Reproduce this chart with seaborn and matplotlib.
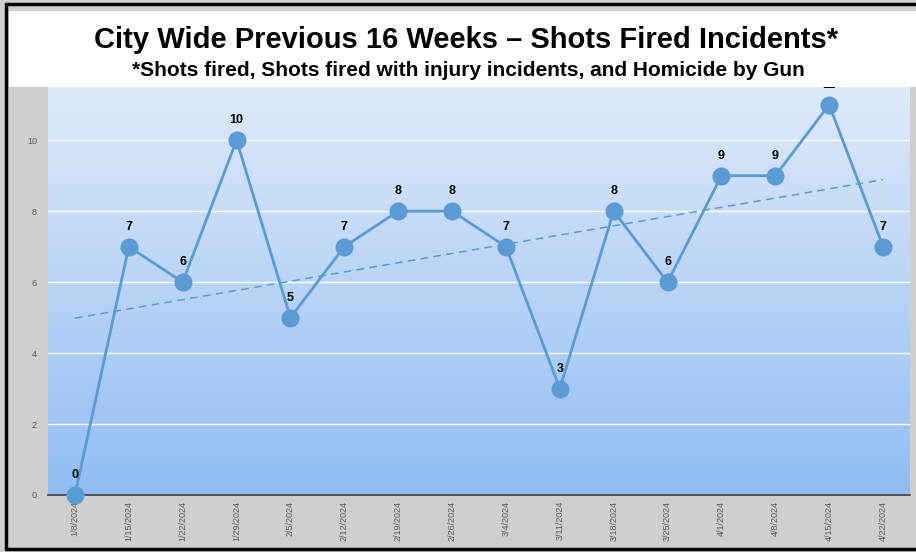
import numpy as np
import pandas as pd
import matplotlib
matplotlib.use("Agg")
import matplotlib.pyplot as plt
import seaborn as sns
from matplotlib.patches import Rectangle
from matplotlib.lines import Line2D

# weekly counts
WEEKS = ["1/8/2024", "1/15/2024", "1/22/2024", "1/29/2024", "2/5/2024", "2/12/2024",
         "2/19/2024", "2/26/2024", "3/4/2024", "3/11/2024", "3/18/2024", "3/25/2024",
         "4/1/2024", "4/8/2024", "4/15/2024", "4/22/2024"]
INCIDENTS = [0, 7, 6, 10, 5, 7, 8, 8, 7, 3, 8, 6, 9, 9, 11, 7]
Y_TICKS = [0, 2, 4, 6, 8, 10]

TITLE = "City Wide Previous 16 Weeks \u2013 Shots Fired Incidents*"
SUBTITLE = "*Shots fired, Shots fired with injury incidents, and Homicide by Gun"

LINE_COLOR = "#5b9bd5"

df = pd.DataFrame({"week": WEEKS, "pos": range(len(WEEKS)), "count": INCIDENTS})

sns.set_style("white")
plt.rcParams["font.family"] = ["Liberation Sans", "DejaVu Sans"]

fig = plt.figure(figsize=(9.16, 5.52), dpi=100, facecolor="#cfcfcf")
W, H = 916, 552

# white title box + black frame lines
fig.patches.append(Rectangle((9 / W, 1 - 87 / H), 1 - 9 / W, 76 / H,
                             transform=fig.transFigure, facecolor="white",
                             edgecolor="none", zorder=0))
fig.lines.append(Line2D([6 / W, 1], [1 - 4 / H, 1 - 4 / H], transform=fig.transFigure,
                        color="black", lw=2.5))
fig.lines.append(Line2D([6 / W, 6 / W], [1 - 4 / H, 1 - 549 / H], transform=fig.transFigure,
                        color="black", lw=2.5))
fig.lines.append(Line2D([6 / W, 1], [1 - 549 / H, 1 - 549 / H], transform=fig.transFigure,
                        color="black", lw=2.5))

fig.text(466 / W, 1 - 40 / H, TITLE, ha="center", va="center",
         fontsize=21, fontweight="bold", color="black")
fig.text(468 / W, 1 - 71 / H, SUBTITLE, ha="center", va="center",
         fontsize=15, fontweight="bold", color="black")

ax = fig.add_axes([48 / W, 1 - 495 / H, (910 - 48) / W, (495 - 87) / H])
ax.set_xlim(-0.5, len(WEEKS) - 0.5)
ax.set_ylim(0, 11.5)

# vertical gradient background, light at top
grad = np.linspace(0, 1, 256).reshape(-1, 1)
cmap = matplotlib.colors.LinearSegmentedColormap.from_list("bg", ["#dfeafa", "#91bdf2"])
ax.imshow(grad, extent=[-0.5, len(WEEKS) - 0.5, 0, 11.5], origin="upper",
          aspect="auto", cmap=cmap, zorder=0)

for y in Y_TICKS[1:]:
    ax.axhline(y, color="white", lw=1, zorder=1)

sns.regplot(data=df, x="pos", y="count", scatter=False, ci=None, ax=ax,
            line_kws=dict(color=LINE_COLOR, lw=1.1, ls=(0, (5, 3.5)), zorder=2))
sns.lineplot(data=df, x="pos", y="count", ax=ax, color=LINE_COLOR, lw=2,
             marker="o", markersize=13, markeredgewidth=0, zorder=3)
for ln in ax.lines[-1:]:
    ln.set_clip_on(False)

for x, v in zip(df["pos"], df["count"]):
    ax.annotate(str(v), (x, v), xytext=(0, 10), textcoords="offset points",
                ha="center", va="bottom", fontsize=9, fontweight="bold",
                color="black", annotation_clip=False, clip_on=True, zorder=4)

ax.set_xlabel("")
ax.set_ylabel("")
ax.set_xticks(range(len(WEEKS)))
ax.set_xticklabels(WEEKS, rotation=90, fontsize=6.5, color="#595959")
ax.set_xticks(np.arange(-0.5, len(WEEKS)), minor=True)
ax.tick_params(axis="x", which="major", length=0, pad=4)
ax.tick_params(axis="x", which="minor", length=4, width=1, color="#404040", direction="out")
ax.set_yticks(Y_TICKS)
ax.set_yticklabels([str(t) for t in Y_TICKS], fontsize=6.5, color="#595959")
ax.tick_params(axis="y", length=0, pad=8)

for side in ["top", "left", "right"]:
    ax.spines[side].set_visible(False)
ax.spines["bottom"].set_color("#404040")
ax.spines["bottom"].set_linewidth(1.2)

fig.savefig("out.png", dpi=100, facecolor=fig.get_facecolor())
